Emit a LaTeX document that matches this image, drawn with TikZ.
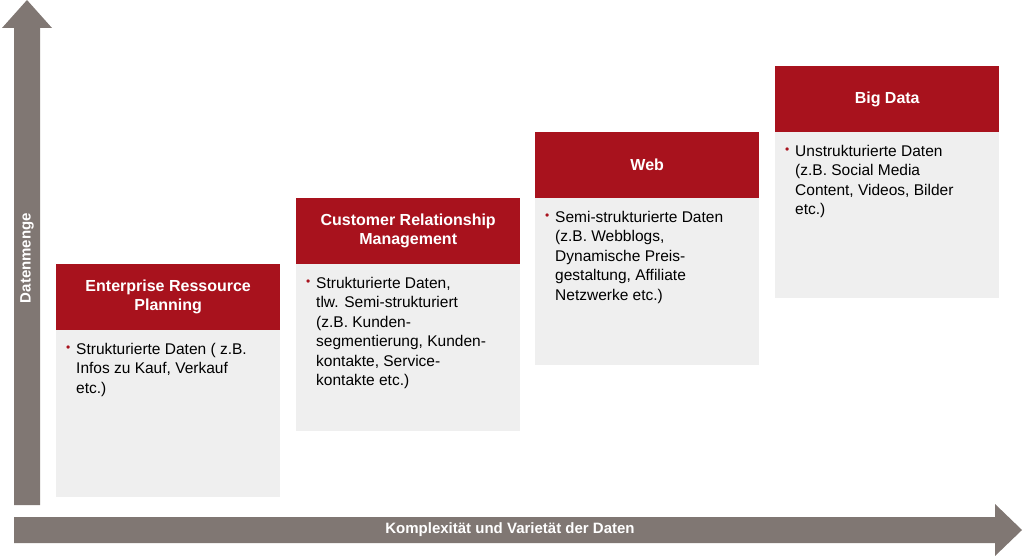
\documentclass[tikz,border=0pt]{standalone}
\usepackage{fontspec}
\setmainfont{Liberation Sans}
\usepackage{tikz}
\definecolor{hdred}{HTML}{A8121D}
\definecolor{bodygray}{HTML}{EFEFEF}
\definecolor{arrowgray}{HTML}{807773}
\tikzset{
  header/.style={fill=hdred, text=white, font=\fontsize{16}{19}\selectfont\bfseries, align=center, minimum width=224pt, minimum height=66pt, inner sep=0pt, anchor=north west},
  body/.style={fill=bodygray, minimum width=224pt, anchor=north west, inner sep=0pt},
  btext/.style={font=\fontsize{15.5}{19.5}\selectfont, align=left, anchor=north west, inner sep=0pt},
  bullet/.style={text=hdred, font=\fontsize{12}{14}\selectfont, anchor=north west, inner sep=0pt}
}
\begin{document}
\begin{tikzpicture}[x=1pt, y=-1pt]
    \useasboundingbox (0,0) rectangle (1024,556);
    % axes
    \fill[arrowgray] (14,505) -- (40,505) -- (40,28) -- (52,28) -- (27,0) -- (2,28) -- (14,28) -- cycle;
    \fill[arrowgray] (14,517) -- (995,517) -- (995,504) -- (1022,530) -- (995,556) -- (995,543) -- (14,543) -- cycle;
    \node[text=white, font=\fontsize{15}{18}\selectfont\bfseries, rotate=90] (ylab) at (27,258) {Datenmenge};
    \node[text=white, font=\fontsize{15}{18}\selectfont\bfseries] (xlab) at (510,530) {Komplexität und Varietät der Daten};
    % boxes
    \node[body, minimum height=167pt] (erpb) at (56,330) {};
    \node[header] (erp) at (56,264) {Enterprise Ressource\\Planning};
    \node[bullet] (erpd) at (66,346) {•};
    \node[btext] (erpt) at (76,343) {Strukturierte Daten ( z.B.\\Infos zu Kauf, Verkauf\\etc.)};
    \node[body, minimum height=167pt] (crmb) at (296,264) {};
    \node[header] (crm) at (296,198) {Customer Relationship\\Management};
    \node[bullet] (crmd) at (306,280) {•};
    \node[btext] (crmt) at (316,277) {Strukturierte Daten,\\tlw. Semi-strukturiert\\(z.B. Kunden-\\segmentierung, Kunden-\\kontakte, Service-\\kontakte etc.)};
    \node[body, minimum height=167pt] (webb) at (535,198) {};
    \node[header] (web) at (535,132) {Web};
    \node[bullet] (webd) at (545,214) {•};
    \node[btext] (webt) at (555,211) {Semi-strukturierte Daten\\(z.B. Webblogs,\\Dynamische Preis-\\gestaltung, Affiliate\\Netzwerke etc.)};
    \node[body, minimum height=166pt] (bigb) at (775,132) {};
    \node[header] (big) at (775,66) {Big Data};
    \node[bullet] (bigd) at (785,148) {•};
    \node[btext] (bigt) at (795,145) {Unstrukturierte Daten\\(z.B. Social Media\\Content, Videos, Bilder\\etc.)};
\end{tikzpicture}
\end{document}
